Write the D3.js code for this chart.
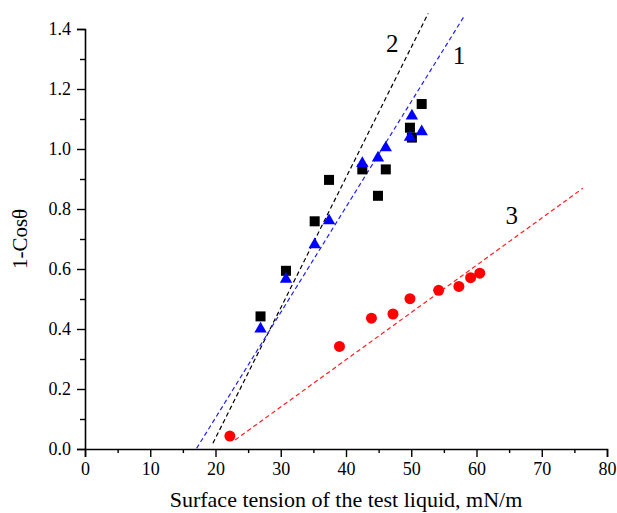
<!DOCTYPE html>
<html>
<head>
<meta charset="utf-8">
<script src="https://cdn.jsdelivr.net/npm/d3@7"></script>
<style>
  body { margin: 0; background: #fff; }
  svg text { font-family: "Liberation Serif", "Times New Roman", serif; }
</style>
</head>
<body>
<div id="chart"></div>
<script>
// DATA
const squareX = [26.9, 30.8, 35.2, 37.4, 42.5, 44.9, 46.1, 49.8, 50.1, 51.6];
const squareY = [0.442, 0.594, 0.759, 0.897, 0.932, 0.844, 0.932, 1.071, 1.038, 1.150];
const triangleX = [26.9, 30.8, 35.2, 37.4, 42.5, 44.9, 46.1, 49.8, 50.1, 51.6];
const triangleY = [0.400, 0.566, 0.681, 0.761, 0.952, 0.970, 1.004, 1.039, 1.110, 1.058];
const circleX = [22.2, 39.0, 43.9, 47.2, 49.8, 54.2, 57.3, 59.1, 60.5];
const circleY = [0.043, 0.342, 0.436, 0.450, 0.501, 0.529, 0.542, 0.571, 0.586];

// fitted lines: [x, y] end points
const fit1 = [[17.1, 0.002], [58.0, 1.439]];
const fit2 = [[19.6, 0.019], [52.6, 1.452]];
const fit3 = [[23.0, 0.030], [76.3, 0.869]];

const lineLabels = ["1", "2", "3"];
const labelX = [57.3, 47.1, 65.4];
const labelY = [1.313, 1.352, 0.777];

const xTicks = [0, 10, 20, 30, 40, 50, 60, 70, 80];
const yTicks = [0, 0.2, 0.4, 0.6, 0.8, 1.0, 1.2, 1.4];

// 1: SETUP
const W = 617, H = 513;
const margin = { top: 29, right: 10, bottom: 64, left: 85 };
const width = W - margin.left - margin.right;
const height = H - margin.top - margin.bottom;
const serif = '"Liberation Serif", "Times New Roman", serif';

const svg = d3.select("#chart").append("svg")
    .attr("width", W)
    .attr("height", H);
const g = svg.append("g")
    .attr("transform", `translate(${margin.left},${margin.top})`);

// 2: SCALES
const x = d3.scaleLinear().domain([0, 80]).range([0, width]);
const y = d3.scaleLinear().domain([0, 1.4]).range([height, 0]);

// 3: AXES (major + minor ticks)
const xMinor = g.append("g")
    .attr("transform", `translate(0,${height})`)
    .call(d3.axisBottom(x).tickValues(d3.range(5, 80, 10)).tickSize(4).tickFormat(""));
const xAxis = g.append("g")
    .attr("transform", `translate(0,${height})`)
    .call(d3.axisBottom(x).tickValues(xTicks).tickSize(8).tickPadding(5).tickFormat(d3.format("d")));
const yMinor = g.append("g")
    .call(d3.axisLeft(y).tickValues(d3.range(0.1, 1.4, 0.2)).tickSize(5).tickFormat(""));
const yAxis = g.append("g")
    .call(d3.axisLeft(y).tickValues(yTicks).tickSize(8).tickPadding(6).tickFormat(d3.format(".1f")));

[xMinor, xAxis, yMinor, yAxis].forEach(a => {
    a.attr("font-family", serif).attr("font-size", 18);
    a.select(".domain").attr("stroke", "#000").attr("stroke-width", 1.6);
    a.selectAll(".tick line").attr("stroke", "#000").attr("stroke-width", 1.4);
    a.selectAll("text").attr("fill", "#000");
});
xMinor.select(".domain").remove();
yMinor.select(".domain").remove();

// 4: FIT LINES
const line = d3.line().x(d => x(d[0])).y(d => y(d[1]));
[[fit2, "#000"], [fit1, "#2020ff"], [fit3, "#ff2020"]].forEach(([pts, c]) => {
    g.append("path")
        .attr("d", line(pts))
        .attr("fill", "none")
        .attr("stroke", c)
        .attr("stroke-width", 1.2)
        .attr("stroke-dasharray", "4.5,3");
});

// 5: POINTS
g.selectAll(".sq")
    .data(squareX.map((v, i) => [v, squareY[i]]))
    .enter().append("rect")
    .attr("x", d => x(d[0]) - 5)
    .attr("y", d => y(d[1]) - 5)
    .attr("width", 10)
    .attr("height", 10)
    .attr("fill", "#000");

g.selectAll(".tri")
    .data(triangleX.map((v, i) => [v, triangleY[i]]))
    .enter().append("path")
    .attr("d", d3.symbol(d3.symbolTriangle, 66))
    .attr("transform", d => `translate(${x(d[0])},${y(d[1])})`)
    .attr("fill", "#0000ff");

g.selectAll(".dot")
    .data(circleX.map((v, i) => [v, circleY[i]]))
    .enter().append("circle")
    .attr("cx", d => x(d[0]))
    .attr("cy", d => y(d[1]))
    .attr("r", 5.5)
    .attr("fill", "#ff0000");

// 6: LINE LABELS
g.selectAll(".lbl")
    .data(lineLabels)
    .enter().append("text")
    .attr("x", (d, i) => x(labelX[i]))
    .attr("y", (d, i) => y(labelY[i]))
    .attr("text-anchor", "middle")
    .attr("dominant-baseline", "central")
    .attr("font-size", 25)
    .text(d => d);

// 7: AXIS TITLES
g.append("text")
    .attr("x", width / 2)
    .attr("y", height + 58)
    .attr("text-anchor", "middle")
    .attr("font-size", 22)
    .text("Surface tension of the test liquid, mN/m");

g.append("text")
    .attr("transform", "rotate(-90)")
    .attr("x", -height / 2)
    .attr("y", -58)
    .attr("text-anchor", "middle")
    .attr("font-size", 21)
    .text("1-Cosθ");
</script>
</body>
</html>
